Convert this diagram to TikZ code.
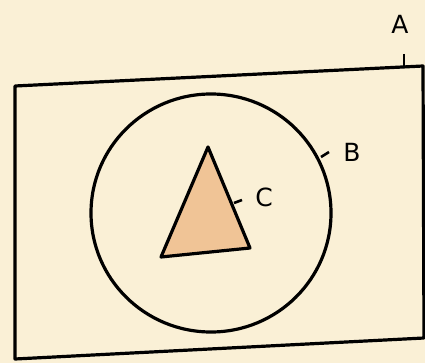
\documentclass[tikz,border=0pt]{standalone}
\usepackage{fontspec}
\setmainfont{DejaVu Sans}
\definecolor{paper}{RGB}{250,240,214}
\definecolor{tri}{RGB}{240,196,150}
\tikzset{
  outline/.style={draw=black, line width=3.2pt, line join=round},
  lab/.style={font=\fontsize{25}{25}\selectfont, inner sep=0pt},
  tick/.style={draw=black, line width=2.6pt}
}
\begin{document}
\begin{tikzpicture}[x=1pt,y=-1pt]
  \fill[paper] (0,0) rectangle (425,363);
  \useasboundingbox (0,0) rectangle (425,363);
  % set A
  \draw[outline] (15,86) -- (423,66) -- (424,338) -- (15,359) -- cycle;
  % set B
  \draw[outline] (211,213) ellipse [x radius=120, y radius=119];
  % set C
  \draw[outline, fill=tri] (208,147) -- (250,248) -- (161,257) -- cycle;
  % labels
  \node[lab] (A) at (400,24) {A};
  \node[lab] (B) at (352,152) {B};
  \node[lab] (C) at (264,197) {C};
  \coordinate (ta1) at (404,54);
  \coordinate (ta2) at (404,66);
  \coordinate (tb1) at (321,157);
  \coordinate (tb2) at (329,152);
  \coordinate (tc1) at (234,203);
  \coordinate (tc2) at (242,200);
  \draw[tick] (ta1) -- (ta2);
  \draw[tick] (tb1) -- (tb2);
  \draw[tick] (tc1) -- (tc2);
\end{tikzpicture}
\end{document}
